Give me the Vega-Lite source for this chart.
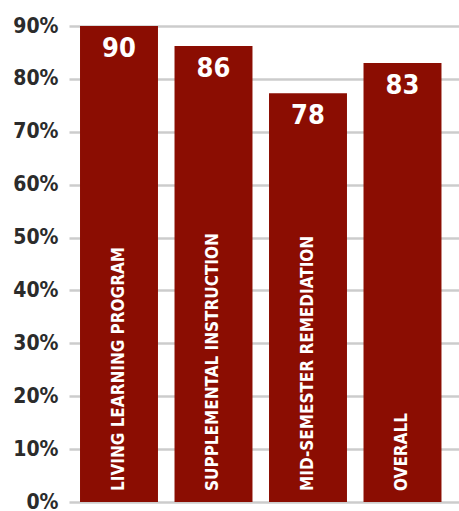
{
  "$schema": "https://vega.github.io/schema/vega-lite/v6.json",
  "width": 390,
  "height": 476,
  "autosize": {"type": "none"},
  "padding": {"left": 69, "top": 26, "right": 0, "bottom": 9},
  "background": "white",
  "config": {"view": {"stroke": null}},
  "data": {
    "values": [
      {"program": "LIVING LEARNING PROGRAM", "value": 90, "label": "90"},
      {"program": "SUPPLEMENTAL INSTRUCTION", "value": 86.2, "label": "86"},
      {"program": "MID-SEMESTER REMEDIATION", "value": 77.3, "label": "78"},
      {"program": "OVERALL", "value": 83, "label": "83"}
    ]
  },
  "encoding": {
    "x": {
      "field": "program",
      "type": "nominal",
      "sort": null,
      "scale": {"paddingInner": 0.175, "paddingOuter": 0.151, "align": 0.386},
      "axis": null
    }
  },
  "layer": [
    {
      "mark": {"type": "bar", "color": "#8B0D02"},
      "encoding": {
        "y": {
          "field": "value",
          "type": "quantitative",
          "scale": {"domain": [0, 90], "nice": false},
          "axis": {
            "values": [0, 10, 20, 30, 40, 50, 60, 70, 80, 90],
            "labelExpr": "datum.value + '%'",
            "title": null,
            "domain": false,
            "ticks": false,
            "gridColor": "#cccccc",
            "gridWidth": 2.5,
            "labelFont": "DejaVu Sans Condensed, DejaVu Sans",
            "labelFontWeight": "bold",
            "labelFontSize": 21,
            "labelColor": "#2b2b2b",
            "labelPadding": 11
          }
        }
      }
    },
    {
      "mark": {
        "type": "text",
        "color": "white",
        "font": "DejaVu Sans Condensed, DejaVu Sans",
        "fontWeight": "bold",
        "fontSize": 27,
        "baseline": "top",
        "dy": 10
      },
      "encoding": {
        "y": {"field": "value", "type": "quantitative"},
        "text": {"field": "label"}
      }
    },
    {
      "mark": {
        "type": "text",
        "color": "white",
        "font": "DejaVu Sans Condensed, DejaVu Sans",
        "fontWeight": "bold",
        "fontSize": 17,
        "angle": 270,
        "align": "left",
        "baseline": "middle",
        "dx": 11
      },
      "encoding": {
        "y": {"datum": 0, "type": "quantitative"},
        "text": {"field": "program"}
      }
    }
  ]
}
